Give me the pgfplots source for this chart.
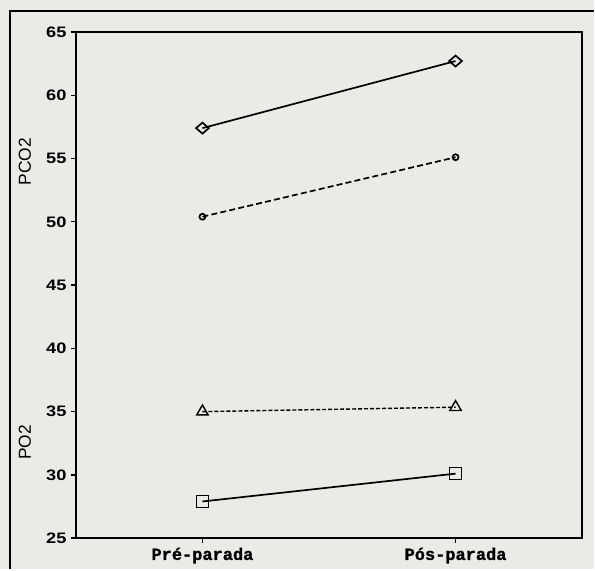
\documentclass[border=0pt]{standalone}
\usepackage{fontspec}
\setmainfont{Liberation Sans}
\setmonofont{Liberation Mono}
\newfontfamily\tickfont[FakeStretch=1.2]{Liberation Sans}
\newfontfamily\labfont[FakeBold=1.2]{Liberation Mono Bold}
\usepackage{pgfplots}
\pgfplotsset{compat=1.18}
\definecolor{paper}{HTML}{ECEAE6}
\begin{document}
\begin{tikzpicture}[x=1pt,y=1pt]
\fill[paper] (0,0) rectangle (297.5,285);
\draw[line width=0.9pt] (5,0) -- (5,279.5) -- (297.5,279.5);
\begin{axis}[
  at={(38pt,15.5pt)}, anchor=south west,
  scale only axis, width=253.5pt, height=253.5pt,
  xmin=0.5, xmax=2.5, ymin=25, ymax=65,
  xtick={1,2}, xticklabels={Pré-parada,Pós-parada},
  ytick={25,30,...,65},
  tick align=outside, tick pos=left,
  major tick length=2.2pt,
  every tick/.style={black, line width=0.7pt},
  axis line style={line width=1.1pt},
  /pgf/number format/assume math mode=true,
  yticklabel style={font=\tickfont\bfseries\fontsize{7.6}{8}\selectfont, xshift=1pt},
  xticklabel style={font=\labfont\fontsize{8.5}{9}\selectfont, yshift=1pt},
]
\addplot[black, line width=0.85pt, mark=diamond, mark size=2.75pt, mark options={solid, fill=paper, xscale=1.55}] coordinates {(1,57.4) (2,62.7)};
\addplot[black, line width=0.85pt, dash pattern=on 3pt off 1.6pt, mark=o, mark size=1.5pt, mark options={solid, fill=paper}] coordinates {(1,50.4) (2,55.1)};
\addplot[black, line width=0.7pt, dash pattern=on 2pt off 1pt, mark=triangle, mark size=3.3pt, mark options={solid, fill=paper}] coordinates {(1,35.0) (2,35.35)};
\addplot[black, line width=0.85pt, mark=square, mark size=3pt, mark options={solid, fill=paper}] coordinates {(1,27.9) (2,30.1)};
\end{axis}
\node[rotate=90, font=\fontsize{8.7}{9}\selectfont] at (12.5,204) {PCO2};
\node[rotate=90, font=\fontsize{8.7}{9}\selectfont] at (12.5,63.5) {PO2};
\end{tikzpicture}
\end{document}
